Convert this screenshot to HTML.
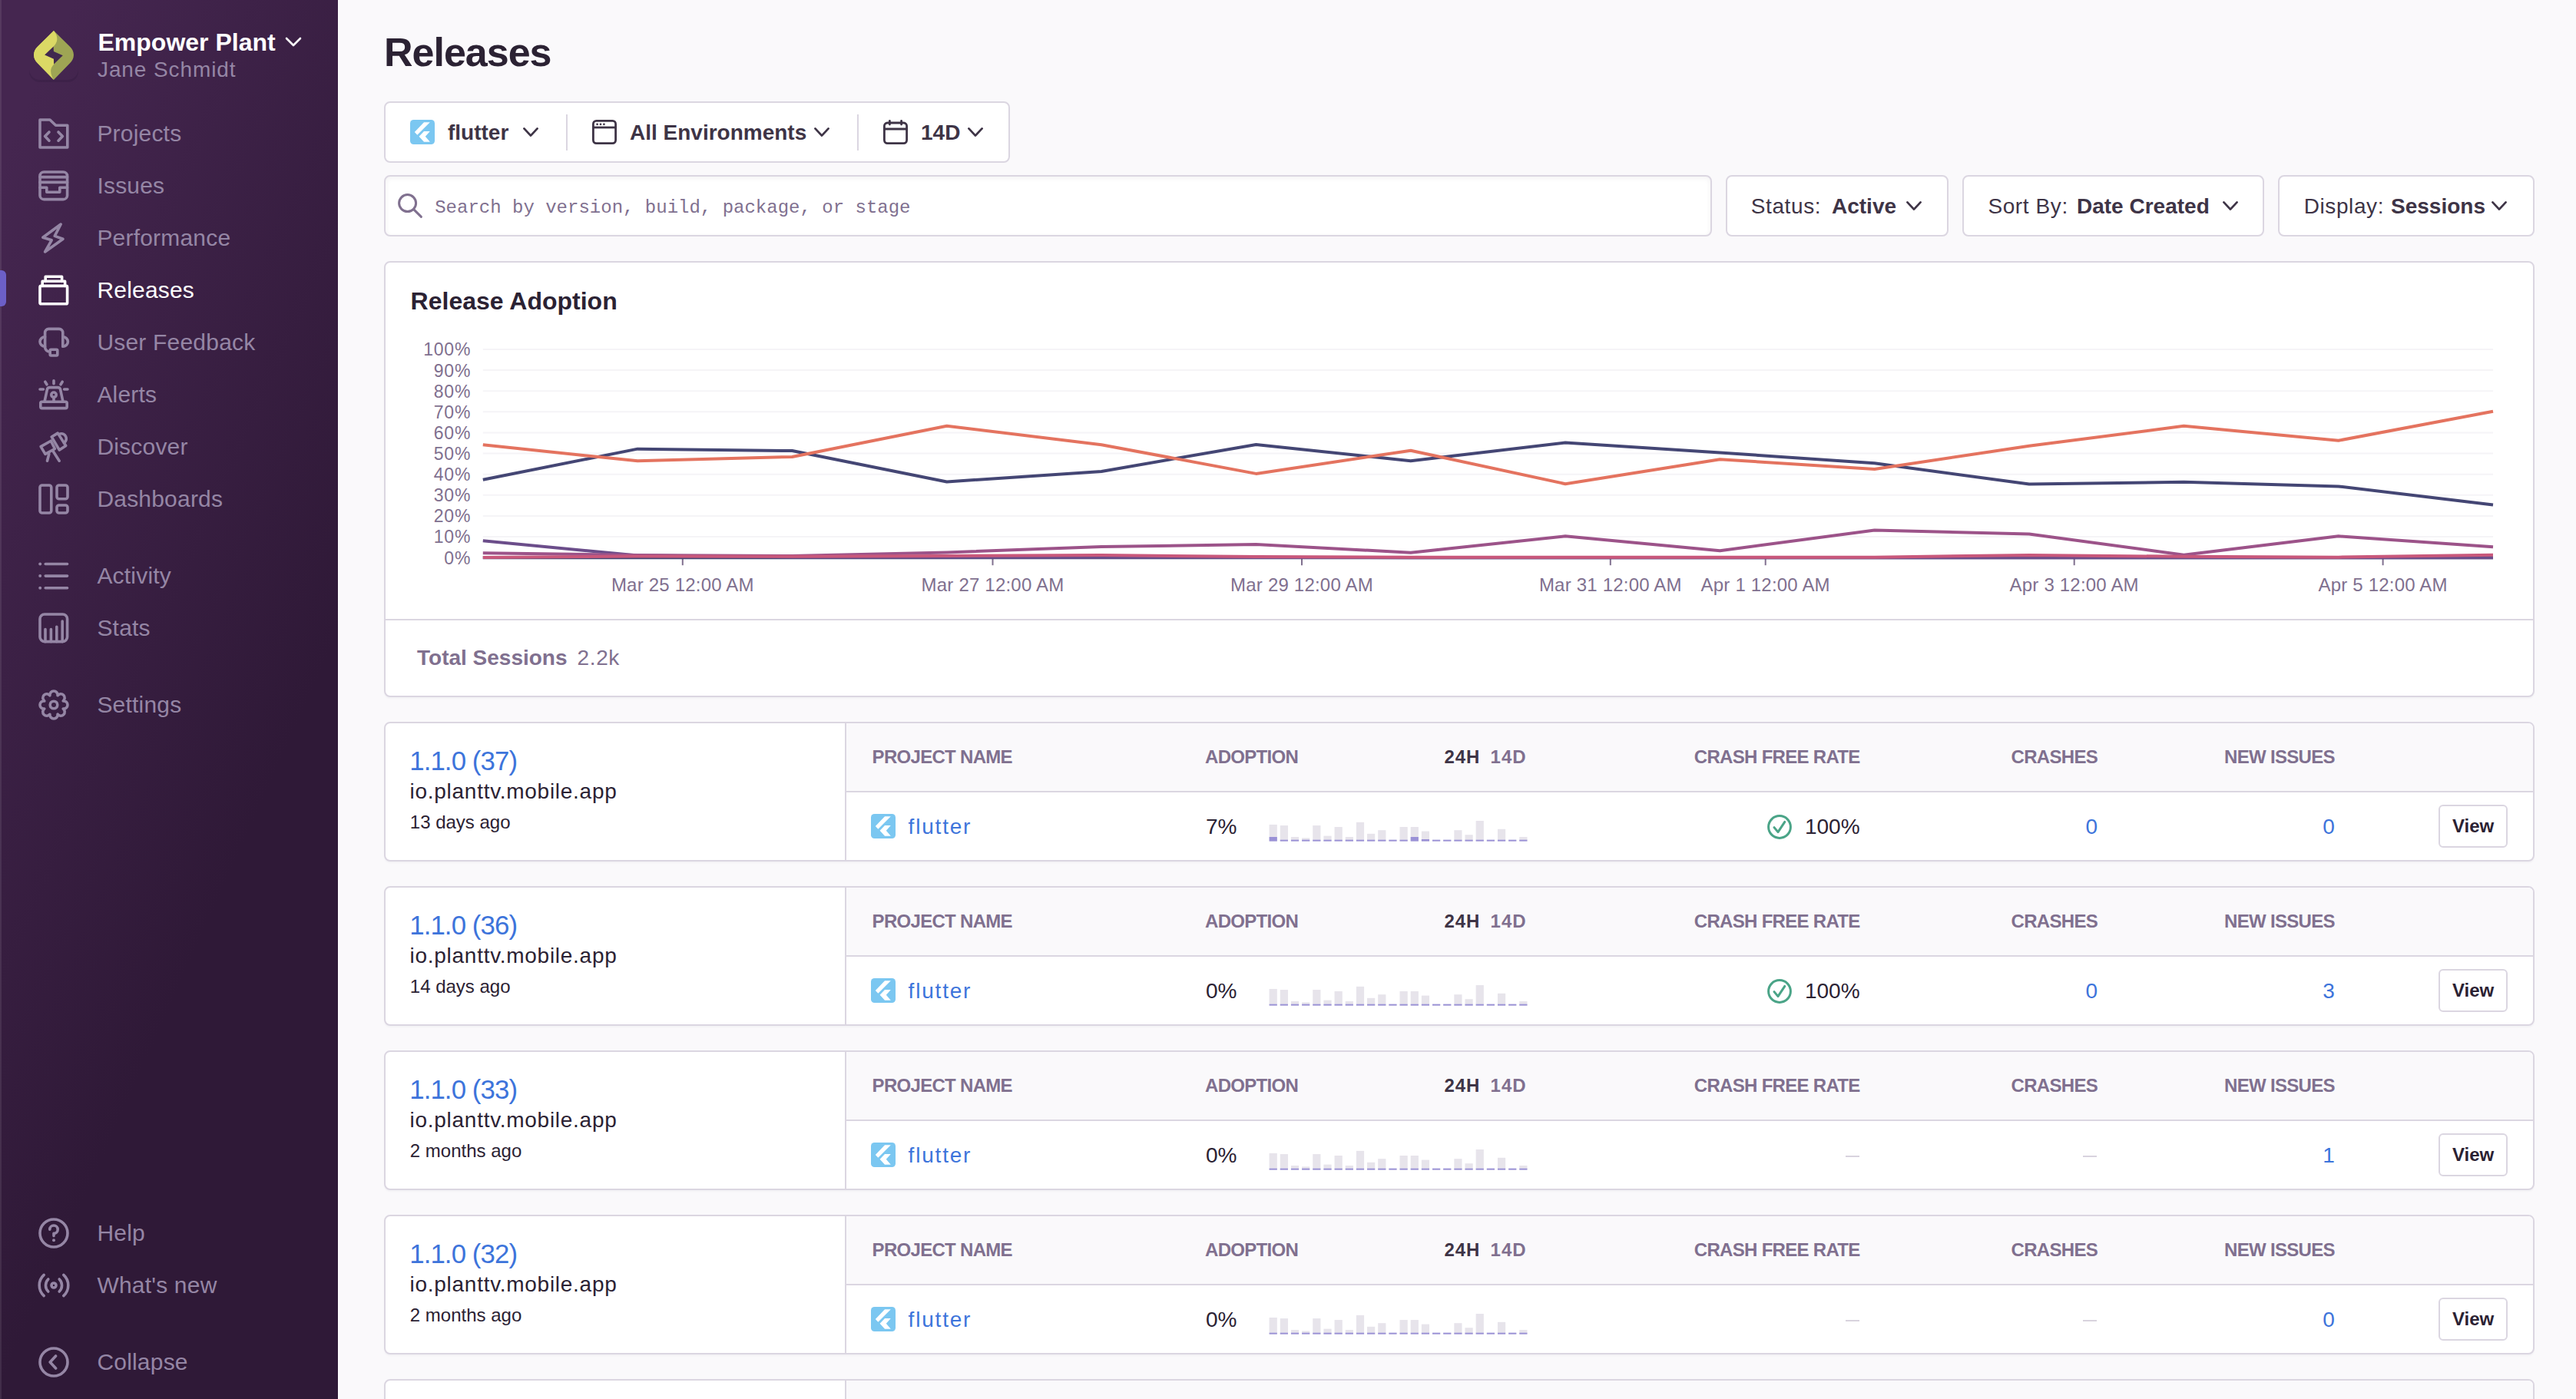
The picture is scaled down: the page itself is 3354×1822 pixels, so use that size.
<!DOCTYPE html><html><head><meta charset="utf-8"><style>
html,body{margin:0;padding:0;}
html{zoom:2;}
@media (max-width:2500px){html{zoom:1;}}
body{width:1677px;height:911px;overflow:hidden;position:relative;background:#FAF9FB;font-family:"Liberation Sans",sans-serif;}
.t{position:absolute;white-space:nowrap;line-height:1;}
svg{overflow:visible;}
</style></head><body>
<div style="position:absolute;left:0;top:0;width:220px;height:911px;background:linear-gradient(294.17deg,#2f1937 35.57%,#452650 92.42%,#452650 92.42%);"></div>
<div style="position:absolute;left:0px;top:0px;width:0.75px;height:911px;background:rgba(255,255,255,0.09);"></div>
<div style="position:absolute;left:220px;top:0px;width:0.5px;height:911px;background:#FFFFFF;"></div>
<div style="position:absolute;left:19px;top:20px;width:32px;height:32px;border-radius:7px;box-shadow:0 1.5px 0 rgba(20,8,30,0.12);"></div>
<svg style="position:absolute;left:19px;top:20px;" width="32" height="32" viewBox="0 0 32 32">
<path d="M15.98 0 L26.53 10.35 C27.96 11.8 28.98 13.5 28.98 15.76 C28.98 18.0 27.96 19.7 26.53 21.16 L15.98 32 L5.43 21.16 C4.0 19.7 2.99 18.0 2.99 15.76 C2.99 13.5 4.0 11.8 5.43 10.35 Z" fill="#9EA554"/>
<path d="M15.98 0 C17.2 1.2 18.3 3.4 18.17 5.72 C18.0 7.6 16.9 9.2 15.86 10.22 L16.11 21.8 C14.9 23.2 14.0 24.7 14.05 26.31 C14.1 28.5 15.0 30.6 15.98 32 L5.43 21.16 C4.0 19.7 2.99 18.0 2.99 15.76 C2.99 13.5 4.0 11.8 5.43 10.35 Z" fill="#DBD965"/>
<path d="M15.86 10.22 L15.98 13.44 L21.9 16.14 L16.11 21.8 L15.98 18.33 L10.07 15.76 Z" fill="#40284F"/>
</svg>
<div class="t" style="left:63.75px;top:19.26px;font-size:16px;font-weight:700;color:#FFFFFF;font-family:'Liberation Sans', sans-serif;">Empower Plant</div>
<svg style="position:absolute;left:185.5px;top:24px;" width="11" height="7" viewBox="0 0 11 7"><path d="M1 1 L5.5 5.5 L10 1" fill="none" stroke="#fff" stroke-width="1.3" stroke-linecap="round" stroke-linejoin="round"/></svg>
<div class="t" style="left:63.5px;top:38.35px;font-size:14px;font-weight:400;color:#9586A5;font-family:'Liberation Sans', sans-serif;letter-spacing:0.45px;">Jane Schmidt</div>
<svg style="position:absolute;left:25px;top:77px;" width="20" height="20" viewBox="0 0 20 20"><g fill="none" stroke="#9586A5" stroke-width="1.8" stroke-linecap="round" stroke-linejoin="round"><path d="M1 19 V1 H7.5 L11.3 4.6 H18.9 V19 Z"/><path d="M7 9 L4.3 11.8 L7 14.6"/><path d="M13 9 L15.7 11.8 L13 14.6"/></g></svg>
<div class="t" style="left:63.2px;top:79.50px;font-size:15px;font-weight:400;color:#9586A5;font-family:'Liberation Sans', sans-serif;letter-spacing:0.1px;">Projects</div>
<svg style="position:absolute;left:25px;top:111px;" width="20" height="20" viewBox="0 0 20 20"><g fill="none" stroke="#9586A5" stroke-width="1.8" stroke-linecap="round" stroke-linejoin="round"><rect x="1" y="1" width="17.8" height="17.8" rx="2.6"/><path d="M1 4.3 H18.8 M1 7.7 H18.8 M1 11.1 H5.4 V14.1 H13.9 V11.1 H18.8"/></g></svg>
<div class="t" style="left:63.2px;top:113.50px;font-size:15px;font-weight:400;color:#9586A5;font-family:'Liberation Sans', sans-serif;letter-spacing:0.1px;">Issues</div>
<svg style="position:absolute;left:25px;top:145px;" width="20" height="20" viewBox="0 0 20 20"><g fill="none" stroke="#9586A5" stroke-width="1.8" stroke-linecap="round" stroke-linejoin="round"><path d="M14.6 1 L2.9 9.6 L8.6 11.4 L4.3 19 L16 10.6 L10.6 8.7 Z"/></g></svg>
<div class="t" style="left:63.2px;top:147.50px;font-size:15px;font-weight:400;color:#9586A5;font-family:'Liberation Sans', sans-serif;letter-spacing:0.1px;">Performance</div>
<svg style="position:absolute;left:25px;top:179px;" width="20" height="20" viewBox="0 0 20 20"><g fill="none" stroke="#FFFFFF" stroke-width="1.8" stroke-linecap="round" stroke-linejoin="round"><path d="M4.6 4.2 V1.1 H15.3 V4.2"/><path d="M2.6 7.2 V4.1 H17.3 V7.2"/><rect x="1" y="7.2" width="17.8" height="11.7" rx="0.8"/></g></svg>
<div class="t" style="left:63.2px;top:181.50px;font-size:15px;font-weight:400;color:#FFFFFF;font-family:'Liberation Sans', sans-serif;letter-spacing:0.1px;">Releases</div>
<svg style="position:absolute;left:25px;top:213px;" width="20" height="20" viewBox="0 0 20 20"><g fill="none" stroke="#9586A5" stroke-width="1.8" stroke-linecap="round" stroke-linejoin="round"><path d="M15.9 12.6 V3.6 A2.4 2.4 0 0 0 13.5 1.2 H6.7 A2.4 2.4 0 0 0 4.3 3.6 V13 A3 3 0 0 0 7.3 16"/><rect x="7.6" y="14.6" width="4.8" height="3.9" rx="0.6"/><path d="M4.3 6.4 A3.3 3.1 0 0 0 4.3 12.6"/><path d="M15.9 6.4 A3.3 3.1 0 0 1 15.9 12.6"/></g></svg>
<div class="t" style="left:63.2px;top:215.50px;font-size:15px;font-weight:400;color:#9586A5;font-family:'Liberation Sans', sans-serif;letter-spacing:0.1px;">User Feedback</div>
<svg style="position:absolute;left:25px;top:247px;" width="20" height="20" viewBox="0 0 20 20"><g fill="none" stroke="#9586A5" stroke-width="1.8" stroke-linecap="round" stroke-linejoin="round"><path d="M1 6.5 H3.2 M16.8 6.5 H19 M10 0.9 V2.9 M4.4 1.6 L5.5 3.4 M15.6 1.6 L14.5 3.4"/><path d="M4 14.6 L5.7 6.6 Q6 5.3 7.4 5.3 H12.6 Q14 5.3 14.3 6.6 L16 14.6"/><circle cx="10" cy="10.1" r="1.6"/><path d="M10 11.7 V14.6"/><rect x="1.4" y="14.6" width="17.2" height="4.2" rx="0.9"/></g></svg>
<div class="t" style="left:63.2px;top:249.50px;font-size:15px;font-weight:400;color:#9586A5;font-family:'Liberation Sans', sans-serif;letter-spacing:0.1px;">Alerts</div>
<svg style="position:absolute;left:25px;top:281px;" width="20" height="20" viewBox="0 0 20 20"><g fill="none" stroke="#9586A5" stroke-width="1.8" stroke-linecap="round" stroke-linejoin="round"><path d="M1.57 9.81 L8.13 6.1 L10.72 11.24 L4.47 14.69 Z"/><path d="M8.58 3.47 L12.6 1.06 L17.87 9.28 L13.67 12.05 Z"/><path d="M14.2 1.5 C17.3 0.5 19.8 4.8 16.7 7.3"/><path d="M6.9 14.6 L5.75 19.1 M9.3 12.4 L13.6 19.1"/></g></svg>
<div class="t" style="left:63.2px;top:283.50px;font-size:15px;font-weight:400;color:#9586A5;font-family:'Liberation Sans', sans-serif;letter-spacing:0.1px;">Discover</div>
<svg style="position:absolute;left:25px;top:315px;" width="20" height="20" viewBox="0 0 20 20"><g fill="none" stroke="#9586A5" stroke-width="1.8" stroke-linecap="round" stroke-linejoin="round"><rect x="1" y="1" width="7.4" height="18" rx="1.4"/><rect x="12" y="1" width="7" height="8.9" rx="1.4"/><rect x="12" y="14" width="7" height="5" rx="1.4"/></g></svg>
<div class="t" style="left:63.2px;top:317.50px;font-size:15px;font-weight:400;color:#9586A5;font-family:'Liberation Sans', sans-serif;letter-spacing:0.1px;">Dashboards</div>
<svg style="position:absolute;left:25px;top:365px;" width="20" height="20" viewBox="0 0 20 20"><g fill="none" stroke="#9586A5" stroke-width="1.8" stroke-linecap="round" stroke-linejoin="round"><path d="M4.6 2.25 H18.8 M4.6 10.05 H18.8 M4.6 17.85 H18.8"/><g fill="#9586A5" stroke="none"><circle cx="1.1" cy="2.25" r="1.0"/><circle cx="1.1" cy="10.05" r="1.0"/><circle cx="1.1" cy="17.85" r="1.0"/></g></g></svg>
<div class="t" style="left:63.2px;top:367.50px;font-size:15px;font-weight:400;color:#9586A5;font-family:'Liberation Sans', sans-serif;letter-spacing:0.1px;">Activity</div>
<svg style="position:absolute;left:25px;top:399px;" width="20" height="20" viewBox="0 0 20 20"><g fill="none" stroke="#9586A5" stroke-width="1.8" stroke-linecap="round" stroke-linejoin="round"><rect x="1" y="1" width="17.8" height="17.8" rx="3"/><path d="M4.5 18.8 V10.8 M8.2 18.8 V10.8 M11.9 18.8 V9.1 M15.6 18.8 V5.5"/></g></svg>
<div class="t" style="left:63.2px;top:401.50px;font-size:15px;font-weight:400;color:#9586A5;font-family:'Liberation Sans', sans-serif;letter-spacing:0.1px;">Stats</div>
<svg style="position:absolute;left:25px;top:449px;" width="20" height="20" viewBox="0 0 20 20"><g fill="none" stroke="#9586A5" stroke-width="1.8" stroke-linecap="round" stroke-linejoin="round"><path d="M7.474 3.902 A2.551 2.551 0 1 1 12.526 3.902 A2.551 2.551 0 1 1 16.098 7.474 A2.551 2.551 0 1 1 16.098 12.526 A2.551 2.551 0 1 1 12.526 16.098 A2.551 2.551 0 1 1 7.474 16.098 A2.551 2.551 0 1 1 3.902 12.526 A2.551 2.551 0 1 1 3.902 7.474 A2.551 2.551 0 1 1 7.474 3.902 Z"/><circle cx="10" cy="10" r="2.4"/></g></svg>
<div class="t" style="left:63.2px;top:451.50px;font-size:15px;font-weight:400;color:#9586A5;font-family:'Liberation Sans', sans-serif;letter-spacing:0.1px;">Settings</div>
<div style="position:absolute;left:-2px;top:175.8px;width:5.75px;height:23.6px;background:#6C5FC7;border-radius:0 3px 3px 0;"></div>
<svg style="position:absolute;left:25px;top:793px;" width="20" height="20" viewBox="0 0 20 20"><g fill="none" stroke="#9586A5" stroke-width="1.8" stroke-linecap="round" stroke-linejoin="round"><circle cx="10" cy="10" r="9"/><path d="M7.4 7.6 A2.6 2.6 0 1 1 10 10.2 V11.8"/><circle cx="10" cy="14.6" r="1" fill="#9586A5" stroke="none"/></g></svg>
<div class="t" style="left:63.2px;top:795.30px;font-size:15px;font-weight:400;color:#9586A5;font-family:'Liberation Sans', sans-serif;letter-spacing:0.1px;">Help</div>
<svg style="position:absolute;left:25px;top:827px;" width="20" height="20" viewBox="0 0 20 20"><g fill="none" stroke="#9586A5" stroke-width="1.8" stroke-linecap="round" stroke-linejoin="round"><circle cx="10" cy="10" r="1.5"/><path d="M6.4 6 A5.6 5.6 0 0 0 6.4 14 M13.6 6 A5.6 5.6 0 0 1 13.6 14 M3.6 3.2 A9.2 9.2 0 0 0 3.6 16.8 M16.4 3.2 A9.2 9.2 0 0 1 16.4 16.8"/></g></svg>
<div class="t" style="left:63.2px;top:829.30px;font-size:15px;font-weight:400;color:#9586A5;font-family:'Liberation Sans', sans-serif;letter-spacing:0.1px;">What's new</div>
<svg style="position:absolute;left:25px;top:877px;" width="20" height="20" viewBox="0 0 20 20"><g fill="none" stroke="#9586A5" stroke-width="1.8" stroke-linecap="round" stroke-linejoin="round"><circle cx="10" cy="10" r="9"/><path d="M11.3 6 L7.6 10 L11.3 14"/></g></svg>
<div class="t" style="left:63.2px;top:879.30px;font-size:15px;font-weight:400;color:#9586A5;font-family:'Liberation Sans', sans-serif;letter-spacing:0.1px;">Collapse</div>
<div class="t" style="left:250px;top:20.84px;font-size:26px;font-weight:700;color:#2B2233;font-family:'Liberation Sans', sans-serif;letter-spacing:-0.5px;">Releases</div>
<div style="position:absolute;left:250px;top:66px;width:407.5px;height:40px;box-sizing:border-box;border:1px solid #DBD6E1;border-radius:4px;background:#fff;"></div>
<div style="position:absolute;left:368.4px;top:74.3px;width:1px;height:23.5px;background:#DBD6E1;"></div>
<div style="position:absolute;left:558.0px;top:74.3px;width:1px;height:23.5px;background:#DBD6E1;"></div>
<svg style="position:absolute;left:267px;top:78px;" width="16" height="16" viewBox="0 0 16 16"><rect x="0" y="0" width="16" height="16" rx="2.3" fill="#7BC7F1"/><path d="M9.0 1.6 H12.9 L4.65 9.85 L2.9 8.0 Z" fill="#fff"/><path d="M9.0 7.5 H12.9 L9.9 10.9 L12.9 14.35 H9.0 L5.8 10.9 Z" fill="#fff"/></svg>
<div class="t" style="left:291.5px;top:79.25px;font-size:14px;font-weight:700;color:#3E3446;font-family:'Liberation Sans', sans-serif;">flutter</div>
<svg style="position:absolute;left:340.5px;top:83px;" width="10" height="6" viewBox="0 0 10 6"><path d="M0.7 0.7 L5.0 5.3 L9.3 0.7" fill="none" stroke="#3E3446" stroke-width="1.4" stroke-linecap="round" stroke-linejoin="round"/></svg>
<svg style="position:absolute;left:385.5px;top:78px;" width="16" height="16" viewBox="0 0 16 16"><g fill="none" stroke="#3E3446" stroke-width="1.4"><rect x="0.7" y="0.7" width="14.6" height="14.6" rx="2"/><path d="M0.7 5 H15.3"/></g><circle cx="3.3" cy="2.9" r="0.7" fill="#3E3446"/><circle cx="5.5" cy="2.9" r="0.7" fill="#3E3446"/><circle cx="7.7" cy="2.9" r="0.7" fill="#3E3446"/></svg>
<div class="t" style="left:410px;top:79.25px;font-size:14px;font-weight:700;color:#3E3446;font-family:'Liberation Sans', sans-serif;">All Environments</div>
<svg style="position:absolute;left:530px;top:83px;" width="10" height="6" viewBox="0 0 10 6"><path d="M0.7 0.7 L5.0 5.3 L9.3 0.7" fill="none" stroke="#3E3446" stroke-width="1.4" stroke-linecap="round" stroke-linejoin="round"/></svg>
<svg style="position:absolute;left:575px;top:78px;" width="16" height="16" viewBox="0 0 16 16"><g fill="none" stroke="#3E3446" stroke-width="1.4" stroke-linecap="round"><rect x="0.7" y="2" width="14.6" height="13.3" rx="2"/><path d="M0.7 6 H15.3 M4.2 0.7 V3 M11.8 0.7 V3"/></g></svg>
<div class="t" style="left:599.5px;top:79.25px;font-size:14px;font-weight:700;color:#3E3446;font-family:'Liberation Sans', sans-serif;">14D</div>
<svg style="position:absolute;left:630px;top:83px;" width="10" height="6" viewBox="0 0 10 6"><path d="M0.7 0.7 L5.0 5.3 L9.3 0.7" fill="none" stroke="#3E3446" stroke-width="1.4" stroke-linecap="round" stroke-linejoin="round"/></svg>
<div style="position:absolute;left:250px;top:114px;width:864.5px;height:40px;box-sizing:border-box;border:1px solid #DBD6E1;border-radius:4px;background:#fff;box-shadow:inset 0 1px 3px rgba(43,34,51,0.06);"></div>
<svg style="position:absolute;left:259px;top:126px;" width="16" height="16" viewBox="0 0 16 16"><g fill="none" stroke="#80708F" stroke-width="1.5" stroke-linecap="round"><circle cx="6.3" cy="6.3" r="5.5"/><path d="M10.3 10.3 L15.2 15.2"/></g></svg>
<div class="t" style="left:283.1px;top:129.60px;font-size:12px;font-weight:400;color:#80708F;font-family:'Liberation Mono', monospace;">Search by version, build, package, or stage</div>
<div style="position:absolute;left:1123.3px;top:114px;width:145.2px;height:40px;box-sizing:border-box;border:1px solid #DBD6E1;border-radius:4px;background:#fff;"></div>
<div class="t" style="left:1139.9px;top:127.25px;font-size:14px;font-weight:400;color:#3E3446;font-family:'Liberation Sans', sans-serif;letter-spacing:0.3px;">Status:</div>
<div class="t" style="left:1192.5px;top:127.25px;font-size:14px;font-weight:700;color:#3E3446;font-family:'Liberation Sans', sans-serif;">Active</div>
<svg style="position:absolute;left:1241px;top:131px;" width="10" height="6" viewBox="0 0 10 6"><path d="M0.7 0.7 L5.0 5.3 L9.3 0.7" fill="none" stroke="#3E3446" stroke-width="1.4" stroke-linecap="round" stroke-linejoin="round"/></svg>
<div style="position:absolute;left:1277.4px;top:114px;width:196.6px;height:40px;box-sizing:border-box;border:1px solid #DBD6E1;border-radius:4px;background:#fff;"></div>
<div class="t" style="left:1294.2px;top:127.25px;font-size:14px;font-weight:400;color:#3E3446;font-family:'Liberation Sans', sans-serif;letter-spacing:0.3px;">Sort By:</div>
<div class="t" style="left:1352px;top:127.25px;font-size:14px;font-weight:700;color:#3E3446;font-family:'Liberation Sans', sans-serif;">Date Created</div>
<svg style="position:absolute;left:1446.8px;top:131px;" width="10" height="6" viewBox="0 0 10 6"><path d="M0.7 0.7 L5.0 5.3 L9.3 0.7" fill="none" stroke="#3E3446" stroke-width="1.4" stroke-linecap="round" stroke-linejoin="round"/></svg>
<div style="position:absolute;left:1483px;top:114px;width:167px;height:40px;box-sizing:border-box;border:1px solid #DBD6E1;border-radius:4px;background:#fff;"></div>
<div class="t" style="left:1499.85px;top:127.25px;font-size:14px;font-weight:400;color:#3E3446;font-family:'Liberation Sans', sans-serif;letter-spacing:0.3px;">Display:</div>
<div class="t" style="left:1556.5px;top:127.25px;font-size:14px;font-weight:700;color:#3E3446;font-family:'Liberation Sans', sans-serif;">Sessions</div>
<svg style="position:absolute;left:1622px;top:131px;" width="10" height="6" viewBox="0 0 10 6"><path d="M0.7 0.7 L5.0 5.3 L9.3 0.7" fill="none" stroke="#3E3446" stroke-width="1.4" stroke-linecap="round" stroke-linejoin="round"/></svg>
<div style="position:absolute;left:250px;top:170px;width:1400px;height:284px;box-sizing:border-box;border:1px solid #DBD6E1;border-radius:4px;background:#fff;box-shadow:0 1px 1px rgba(43,34,51,0.03);"></div>
<div style="position:absolute;left:251px;top:403px;width:1398px;height:1px;background:#DBD6E1;"></div>
<div class="t" style="left:267.3px;top:188.16px;font-size:16px;font-weight:700;color:#2B2233;font-family:'Liberation Sans', sans-serif;">Release Adoption</div>
<div class="t" style="left:271.5px;top:421.45px;font-size:14px;font-weight:700;color:#80708F;font-family:'Liberation Sans', sans-serif;">Total Sessions</div>
<div class="t" style="left:375.8px;top:421.45px;font-size:14px;font-weight:400;color:#80708F;font-family:'Liberation Sans', sans-serif;letter-spacing:0.3px;">2.2k</div>
<svg style="position:absolute;left:0;top:0" width="1677" height="911" viewBox="0 0 1677 911"><text x="306.6" y="367.30" text-anchor="end" font-family="Liberation Sans" font-size="11.5" letter-spacing="0.4" fill="#80708F">0%</text><path d="M314.4 349.54 H1623.0" stroke="#F5F4F7" stroke-width="1"/><text x="306.6" y="353.74" text-anchor="end" font-family="Liberation Sans" font-size="11.5" letter-spacing="0.4" fill="#80708F">10%</text><path d="M314.4 335.98 H1623.0" stroke="#F5F4F7" stroke-width="1"/><text x="306.6" y="340.18" text-anchor="end" font-family="Liberation Sans" font-size="11.5" letter-spacing="0.4" fill="#80708F">20%</text><path d="M314.4 322.42 H1623.0" stroke="#F5F4F7" stroke-width="1"/><text x="306.6" y="326.62" text-anchor="end" font-family="Liberation Sans" font-size="11.5" letter-spacing="0.4" fill="#80708F">30%</text><path d="M314.4 308.86 H1623.0" stroke="#F5F4F7" stroke-width="1"/><text x="306.6" y="313.06" text-anchor="end" font-family="Liberation Sans" font-size="11.5" letter-spacing="0.4" fill="#80708F">40%</text><path d="M314.4 295.30 H1623.0" stroke="#F5F4F7" stroke-width="1"/><text x="306.6" y="299.50" text-anchor="end" font-family="Liberation Sans" font-size="11.5" letter-spacing="0.4" fill="#80708F">50%</text><path d="M314.4 281.74 H1623.0" stroke="#F5F4F7" stroke-width="1"/><text x="306.6" y="285.94" text-anchor="end" font-family="Liberation Sans" font-size="11.5" letter-spacing="0.4" fill="#80708F">60%</text><path d="M314.4 268.18 H1623.0" stroke="#F5F4F7" stroke-width="1"/><text x="306.6" y="272.38" text-anchor="end" font-family="Liberation Sans" font-size="11.5" letter-spacing="0.4" fill="#80708F">70%</text><path d="M314.4 254.62 H1623.0" stroke="#F5F4F7" stroke-width="1"/><text x="306.6" y="258.82" text-anchor="end" font-family="Liberation Sans" font-size="11.5" letter-spacing="0.4" fill="#80708F">80%</text><path d="M314.4 241.06 H1623.0" stroke="#F5F4F7" stroke-width="1"/><text x="306.6" y="245.26" text-anchor="end" font-family="Liberation Sans" font-size="11.5" letter-spacing="0.4" fill="#80708F">90%</text><path d="M314.4 227.50 H1623.0" stroke="#F5F4F7" stroke-width="1"/><text x="306.6" y="231.70" text-anchor="end" font-family="Liberation Sans" font-size="11.5" letter-spacing="0.4" fill="#80708F">100%</text><path d="M444.4 363.1 V368.1" stroke="#80708F" stroke-width="1"/><text x="444.4" y="384.9" text-anchor="middle" font-family="Liberation Sans" font-size="12" letter-spacing="0.1" fill="#80708F">Mar 25 12:00 AM</text><path d="M646.25 363.1 V368.1" stroke="#80708F" stroke-width="1"/><text x="646.25" y="384.9" text-anchor="middle" font-family="Liberation Sans" font-size="12" letter-spacing="0.1" fill="#80708F">Mar 27 12:00 AM</text><path d="M847.5 363.1 V368.1" stroke="#80708F" stroke-width="1"/><text x="847.5" y="384.9" text-anchor="middle" font-family="Liberation Sans" font-size="12" letter-spacing="0.1" fill="#80708F">Mar 29 12:00 AM</text><path d="M1048.4 363.1 V368.1" stroke="#80708F" stroke-width="1"/><text x="1048.4" y="384.9" text-anchor="middle" font-family="Liberation Sans" font-size="12" letter-spacing="0.1" fill="#80708F">Mar 31 12:00 AM</text><path d="M1149.35 363.1 V368.1" stroke="#80708F" stroke-width="1"/><text x="1149.35" y="384.9" text-anchor="middle" font-family="Liberation Sans" font-size="12" letter-spacing="0.1" fill="#80708F">Apr 1 12:00 AM</text><path d="M1350.35 363.1 V368.1" stroke="#80708F" stroke-width="1"/><text x="1350.35" y="384.9" text-anchor="middle" font-family="Liberation Sans" font-size="12" letter-spacing="0.1" fill="#80708F">Apr 3 12:00 AM</text><path d="M1551.3 363.1 V368.1" stroke="#80708F" stroke-width="1"/><text x="1551.3" y="384.9" text-anchor="middle" font-family="Liberation Sans" font-size="12" letter-spacing="0.1" fill="#80708F">Apr 5 12:00 AM</text><path d="M314.40 363.10 L415.06 363.10 L515.72 363.10 L616.38 363.10 L717.05 363.10 L817.71 363.10 L918.37 363.10 L1019.03 363.10 L1119.69 363.10 L1220.35 363.10 L1321.02 363.10 L1421.68 363.10 L1522.34 363.10 L1623.00 363.10" fill="none" stroke="#444674" stroke-width="2" stroke-linejoin="round"/><path d="M314.40 352.12 L415.06 361.74 L515.72 362.69 L616.38 362.83 L717.05 362.83 L817.71 362.96 L918.37 363.10 L1019.03 363.10 L1119.69 363.10 L1220.35 363.10 L1321.02 363.10 L1421.68 363.10 L1522.34 363.10 L1623.00 363.10" fill="none" stroke="#6B4D8A" stroke-width="2" stroke-linejoin="round"/><path d="M314.40 360.12 L415.06 361.47 L515.72 362.02 L616.38 359.71 L717.05 356.05 L817.71 354.56 L918.37 359.85 L1019.03 349.13 L1119.69 358.63 L1220.35 345.20 L1321.02 347.78 L1421.68 361.34 L1522.34 349.13 L1623.00 356.18" fill="none" stroke="#9C5389" stroke-width="2" stroke-linejoin="round"/><path d="M314.40 362.96 L415.06 362.29 L515.72 362.42 L616.38 362.02 L717.05 361.47 L817.71 362.56 L918.37 362.83 L1019.03 362.83 L1119.69 362.83 L1220.35 362.83 L1321.02 361.47 L1421.68 362.42 L1522.34 362.83 L1623.00 361.34" fill="none" stroke="#C9587B" stroke-width="2" stroke-linejoin="round"/><path d="M314.40 312.39 L415.06 292.32 L515.72 293.54 L616.38 313.74 L717.05 306.96 L817.71 289.47 L918.37 300.18 L1019.03 288.25 L1119.69 294.76 L1220.35 301.67 L1321.02 315.23 L1421.68 313.88 L1522.34 316.72 L1623.00 328.79" fill="none" stroke="#444674" stroke-width="2" stroke-linejoin="round"/><path d="M314.40 289.60 L415.06 300.18 L515.72 297.47 L616.38 277.40 L717.05 289.60 L817.71 308.45 L918.37 293.40 L1019.03 315.10 L1119.69 299.10 L1220.35 305.47 L1321.02 290.42 L1421.68 277.40 L1522.34 286.89 L1623.00 267.91" fill="none" stroke="#E4735F" stroke-width="2" stroke-linejoin="round"/></svg>
<div style="position:absolute;left:250px;top:470px;width:1400px;height:91px;box-sizing:border-box;border:1px solid #DBD6E1;border-radius:4px;background:#fff;box-shadow:0 1px 1px rgba(43,34,51,0.03);overflow:hidden;"></div>
<div style="position:absolute;left:551px;top:471px;width:1098px;height:44px;background:#FAF9FB;border-top-right-radius:3px;"></div>
<div style="position:absolute;left:550px;top:471px;width:1px;height:89px;background:#DBD6E1;"></div>
<div style="position:absolute;left:551px;top:515px;width:1098px;height:1px;background:#DBD6E1;"></div>
<div class="t" style="left:266.6px;top:486.77px;font-size:17.4px;font-weight:400;color:#3D74DB;font-family:'Liberation Sans', sans-serif;letter-spacing:-0.45px;">1.1.0 (37)</div>
<div class="t" style="left:266.8px;top:508.55px;font-size:14px;font-weight:400;color:#2B2233;font-family:'Liberation Sans', sans-serif;letter-spacing:0.36px;">io.planttv.mobile.app</div>
<div class="t" style="left:266.9px;top:529.74px;font-size:12px;font-weight:400;color:#2B2233;font-family:'Liberation Sans', sans-serif;">13 days ago</div>
<div class="t" style="left:567.8px;top:486.84px;font-size:12px;font-weight:700;color:#80708F;font-family:'Liberation Sans', sans-serif;letter-spacing:-0.35px;">PROJECT NAME</div>
<div class="t" style="left:784.5px;top:486.84px;font-size:12px;font-weight:700;color:#80708F;font-family:'Liberation Sans', sans-serif;letter-spacing:-0.35px;">ADOPTION</div>
<div class="t" style="left:940.2px;top:486.84px;font-size:12px;font-weight:700;color:#3E3446;font-family:'Liberation Sans', sans-serif;letter-spacing:0.5px;">24H</div>
<div class="t" style="left:970.3px;top:486.84px;font-size:12px;font-weight:700;color:#80708F;font-family:'Liberation Sans', sans-serif;letter-spacing:0.5px;">14D</div>
<div class="t" style="left:1210.8px;transform:translateX(-100%);top:486.84px;font-size:12px;font-weight:700;color:#80708F;font-family:'Liberation Sans', sans-serif;letter-spacing:-0.35px;">CRASH FREE RATE</div>
<div class="t" style="left:1365.5px;transform:translateX(-100%);top:486.84px;font-size:12px;font-weight:700;color:#80708F;font-family:'Liberation Sans', sans-serif;letter-spacing:-0.35px;">CRASHES</div>
<div class="t" style="left:1519.9px;transform:translateX(-100%);top:486.84px;font-size:12px;font-weight:700;color:#80708F;font-family:'Liberation Sans', sans-serif;letter-spacing:-0.35px;">NEW ISSUES</div>
<svg style="position:absolute;left:567px;top:530px;" width="16" height="16" viewBox="0 0 16 16"><rect x="0" y="0" width="16" height="16" rx="2.3" fill="#7BC7F1"/><path d="M9.0 1.6 H12.9 L4.65 9.85 L2.9 8.0 Z" fill="#fff"/><path d="M9.0 7.5 H12.9 L9.9 10.9 L12.9 14.35 H9.0 L5.8 10.9 Z" fill="#fff"/></svg>
<div class="t" style="left:591.3px;top:531.35px;font-size:14px;font-weight:400;color:#3D74DB;font-family:'Liberation Sans', sans-serif;letter-spacing:0.9px;">flutter</div>
<div class="t" style="left:785px;top:531.35px;font-size:14px;font-weight:400;color:#2B2233;font-family:'Liberation Sans', sans-serif;">7%</div>
<svg style="position:absolute;left:0px;top:0px;" width="1677" height="600" viewBox="0 0 1677 600"><rect x="826.30" y="536.97" width="5.1" height="10.83" fill="#E7E4EB"/><rect x="826.30" y="545.00" width="5.1" height="2.80" fill="#9A91D6"/><rect x="833.38" y="537.53" width="5.1" height="10.27" fill="#E7E4EB"/><rect x="833.38" y="546.85" width="5.1" height="0.95" fill="#9A91D6"/><rect x="840.46" y="545.00" width="5.1" height="2.80" fill="#E7E4EB"/><rect x="840.46" y="546.85" width="5.1" height="0.95" fill="#9A91D6"/><rect x="847.54" y="545.70" width="5.1" height="2.10" fill="#E7E4EB"/><rect x="847.54" y="546.85" width="5.1" height="0.95" fill="#9A91D6"/><rect x="854.62" y="537.53" width="5.1" height="10.27" fill="#E7E4EB"/><rect x="854.62" y="546.85" width="5.1" height="0.95" fill="#9A91D6"/><rect x="861.70" y="544.31" width="5.1" height="3.49" fill="#E7E4EB"/><rect x="861.70" y="546.85" width="5.1" height="0.95" fill="#9A91D6"/><rect x="868.78" y="538.51" width="5.1" height="9.29" fill="#E7E4EB"/><rect x="868.78" y="546.85" width="5.1" height="0.95" fill="#9A91D6"/><rect x="875.86" y="545.00" width="5.1" height="2.80" fill="#E7E4EB"/><rect x="875.86" y="546.85" width="5.1" height="0.95" fill="#9A91D6"/><rect x="882.94" y="535.43" width="5.1" height="12.37" fill="#E7E4EB"/><rect x="882.94" y="546.85" width="5.1" height="0.95" fill="#9A91D6"/><rect x="890.02" y="542.91" width="5.1" height="4.89" fill="#E7E4EB"/><rect x="890.02" y="546.85" width="5.1" height="0.95" fill="#9A91D6"/><rect x="897.10" y="540.60" width="5.1" height="7.20" fill="#E7E4EB"/><rect x="897.10" y="546.85" width="5.1" height="0.95" fill="#9A91D6"/><rect x="904.18" y="546.89" width="5.1" height="0.91" fill="#E7E4EB"/><rect x="904.18" y="546.85" width="5.1" height="0.95" fill="#9A91D6"/><rect x="911.26" y="538.51" width="5.1" height="9.29" fill="#E7E4EB"/><rect x="911.26" y="546.85" width="5.1" height="0.95" fill="#9A91D6"/><rect x="918.34" y="538.51" width="5.1" height="9.29" fill="#E7E4EB"/><rect x="918.34" y="545.00" width="5.1" height="2.80" fill="#9A91D6"/><rect x="925.42" y="541.30" width="5.1" height="6.50" fill="#E7E4EB"/><rect x="925.42" y="546.50" width="5.1" height="1.30" fill="#9A91D6"/><rect x="932.50" y="546.89" width="5.1" height="0.91" fill="#E7E4EB"/><rect x="932.50" y="546.85" width="5.1" height="0.95" fill="#9A91D6"/><rect x="939.58" y="546.89" width="5.1" height="0.91" fill="#E7E4EB"/><rect x="939.58" y="546.85" width="5.1" height="0.95" fill="#9A91D6"/><rect x="946.66" y="540.60" width="5.1" height="7.20" fill="#E7E4EB"/><rect x="946.66" y="546.85" width="5.1" height="0.95" fill="#9A91D6"/><rect x="953.74" y="543.61" width="5.1" height="4.19" fill="#E7E4EB"/><rect x="953.74" y="546.85" width="5.1" height="0.95" fill="#9A91D6"/><rect x="960.82" y="534.52" width="5.1" height="13.28" fill="#E7E4EB"/><rect x="960.82" y="546.85" width="5.1" height="0.95" fill="#9A91D6"/><rect x="967.90" y="546.89" width="5.1" height="0.91" fill="#E7E4EB"/><rect x="967.90" y="546.85" width="5.1" height="0.95" fill="#9A91D6"/><rect x="974.98" y="539.90" width="5.1" height="7.90" fill="#E7E4EB"/><rect x="974.98" y="546.85" width="5.1" height="0.95" fill="#9A91D6"/><rect x="982.06" y="546.89" width="5.1" height="0.91" fill="#E7E4EB"/><rect x="982.06" y="546.85" width="5.1" height="0.95" fill="#9A91D6"/><rect x="989.14" y="545.00" width="5.1" height="2.80" fill="#E7E4EB"/><rect x="989.14" y="546.85" width="5.1" height="0.95" fill="#9A91D6"/></svg>
<svg style="position:absolute;left:1150.6px;top:530.4px;" width="16" height="16" viewBox="0 0 16 16"><circle cx="8" cy="8" r="7.2" fill="none" stroke="#4AA487" stroke-width="1.5"/><path d="M4.5 8.3 L7.0 11.3 L11.4 4.7" fill="none" stroke="#4AA487" stroke-width="1.5" stroke-linecap="round" stroke-linejoin="round"/></svg>
<div class="t" style="left:1210.8px;transform:translateX(-100%);top:531.35px;font-size:14px;font-weight:400;color:#2B2233;font-family:'Liberation Sans', sans-serif;">100%</div>
<div class="t" style="left:1365.5px;transform:translateX(-100%);top:531.35px;font-size:14px;font-weight:400;color:#3D74DB;font-family:'Liberation Sans', sans-serif;">0</div>
<div class="t" style="left:1519.9px;transform:translateX(-100%);top:531.35px;font-size:14px;font-weight:400;color:#3D74DB;font-family:'Liberation Sans', sans-serif;">0</div>
<div style="position:absolute;left:1587.7px;top:524.2px;width:45px;height:27.6px;box-sizing:border-box;border:1px solid #DBD6E1;border-radius:3px;background:#fff;"></div>
<div class="t" style="left:1596.5px;top:531.84px;font-size:12px;font-weight:700;color:#2B2233;font-family:'Liberation Sans', sans-serif;">View</div>
<div style="position:absolute;left:250px;top:577px;width:1400px;height:91px;box-sizing:border-box;border:1px solid #DBD6E1;border-radius:4px;background:#fff;box-shadow:0 1px 1px rgba(43,34,51,0.03);overflow:hidden;"></div>
<div style="position:absolute;left:551px;top:578px;width:1098px;height:44px;background:#FAF9FB;border-top-right-radius:3px;"></div>
<div style="position:absolute;left:550px;top:578px;width:1px;height:89px;background:#DBD6E1;"></div>
<div style="position:absolute;left:551px;top:622px;width:1098px;height:1px;background:#DBD6E1;"></div>
<div class="t" style="left:266.6px;top:593.77px;font-size:17.4px;font-weight:400;color:#3D74DB;font-family:'Liberation Sans', sans-serif;letter-spacing:-0.45px;">1.1.0 (36)</div>
<div class="t" style="left:266.8px;top:615.55px;font-size:14px;font-weight:400;color:#2B2233;font-family:'Liberation Sans', sans-serif;letter-spacing:0.36px;">io.planttv.mobile.app</div>
<div class="t" style="left:266.9px;top:636.74px;font-size:12px;font-weight:400;color:#2B2233;font-family:'Liberation Sans', sans-serif;">14 days ago</div>
<div class="t" style="left:567.8px;top:593.84px;font-size:12px;font-weight:700;color:#80708F;font-family:'Liberation Sans', sans-serif;letter-spacing:-0.35px;">PROJECT NAME</div>
<div class="t" style="left:784.5px;top:593.84px;font-size:12px;font-weight:700;color:#80708F;font-family:'Liberation Sans', sans-serif;letter-spacing:-0.35px;">ADOPTION</div>
<div class="t" style="left:940.2px;top:593.84px;font-size:12px;font-weight:700;color:#3E3446;font-family:'Liberation Sans', sans-serif;letter-spacing:0.5px;">24H</div>
<div class="t" style="left:970.3px;top:593.84px;font-size:12px;font-weight:700;color:#80708F;font-family:'Liberation Sans', sans-serif;letter-spacing:0.5px;">14D</div>
<div class="t" style="left:1210.8px;transform:translateX(-100%);top:593.84px;font-size:12px;font-weight:700;color:#80708F;font-family:'Liberation Sans', sans-serif;letter-spacing:-0.35px;">CRASH FREE RATE</div>
<div class="t" style="left:1365.5px;transform:translateX(-100%);top:593.84px;font-size:12px;font-weight:700;color:#80708F;font-family:'Liberation Sans', sans-serif;letter-spacing:-0.35px;">CRASHES</div>
<div class="t" style="left:1519.9px;transform:translateX(-100%);top:593.84px;font-size:12px;font-weight:700;color:#80708F;font-family:'Liberation Sans', sans-serif;letter-spacing:-0.35px;">NEW ISSUES</div>
<svg style="position:absolute;left:567px;top:637px;" width="16" height="16" viewBox="0 0 16 16"><rect x="0" y="0" width="16" height="16" rx="2.3" fill="#7BC7F1"/><path d="M9.0 1.6 H12.9 L4.65 9.85 L2.9 8.0 Z" fill="#fff"/><path d="M9.0 7.5 H12.9 L9.9 10.9 L12.9 14.35 H9.0 L5.8 10.9 Z" fill="#fff"/></svg>
<div class="t" style="left:591.3px;top:638.35px;font-size:14px;font-weight:400;color:#3D74DB;font-family:'Liberation Sans', sans-serif;letter-spacing:0.9px;">flutter</div>
<div class="t" style="left:785px;top:638.35px;font-size:14px;font-weight:400;color:#2B2233;font-family:'Liberation Sans', sans-serif;">0%</div>
<svg style="position:absolute;left:0px;top:107px;" width="1677" height="600" viewBox="0 0 1677 600"><rect x="826.30" y="536.97" width="5.1" height="10.83" fill="#E7E4EB"/><rect x="826.30" y="546.85" width="5.1" height="0.95" fill="#9A91D6"/><rect x="833.38" y="537.53" width="5.1" height="10.27" fill="#E7E4EB"/><rect x="833.38" y="546.85" width="5.1" height="0.95" fill="#9A91D6"/><rect x="840.46" y="545.00" width="5.1" height="2.80" fill="#E7E4EB"/><rect x="840.46" y="546.85" width="5.1" height="0.95" fill="#9A91D6"/><rect x="847.54" y="545.70" width="5.1" height="2.10" fill="#E7E4EB"/><rect x="847.54" y="546.85" width="5.1" height="0.95" fill="#9A91D6"/><rect x="854.62" y="537.53" width="5.1" height="10.27" fill="#E7E4EB"/><rect x="854.62" y="546.85" width="5.1" height="0.95" fill="#9A91D6"/><rect x="861.70" y="544.31" width="5.1" height="3.49" fill="#E7E4EB"/><rect x="861.70" y="546.85" width="5.1" height="0.95" fill="#9A91D6"/><rect x="868.78" y="538.51" width="5.1" height="9.29" fill="#E7E4EB"/><rect x="868.78" y="546.85" width="5.1" height="0.95" fill="#9A91D6"/><rect x="875.86" y="545.00" width="5.1" height="2.80" fill="#E7E4EB"/><rect x="875.86" y="546.85" width="5.1" height="0.95" fill="#9A91D6"/><rect x="882.94" y="535.43" width="5.1" height="12.37" fill="#E7E4EB"/><rect x="882.94" y="546.85" width="5.1" height="0.95" fill="#9A91D6"/><rect x="890.02" y="542.91" width="5.1" height="4.89" fill="#E7E4EB"/><rect x="890.02" y="546.85" width="5.1" height="0.95" fill="#9A91D6"/><rect x="897.10" y="540.60" width="5.1" height="7.20" fill="#E7E4EB"/><rect x="897.10" y="546.85" width="5.1" height="0.95" fill="#9A91D6"/><rect x="904.18" y="546.89" width="5.1" height="0.91" fill="#E7E4EB"/><rect x="904.18" y="546.85" width="5.1" height="0.95" fill="#9A91D6"/><rect x="911.26" y="538.51" width="5.1" height="9.29" fill="#E7E4EB"/><rect x="911.26" y="546.85" width="5.1" height="0.95" fill="#9A91D6"/><rect x="918.34" y="538.51" width="5.1" height="9.29" fill="#E7E4EB"/><rect x="918.34" y="546.85" width="5.1" height="0.95" fill="#9A91D6"/><rect x="925.42" y="541.30" width="5.1" height="6.50" fill="#E7E4EB"/><rect x="925.42" y="546.85" width="5.1" height="0.95" fill="#9A91D6"/><rect x="932.50" y="546.89" width="5.1" height="0.91" fill="#E7E4EB"/><rect x="932.50" y="546.85" width="5.1" height="0.95" fill="#9A91D6"/><rect x="939.58" y="546.89" width="5.1" height="0.91" fill="#E7E4EB"/><rect x="939.58" y="546.85" width="5.1" height="0.95" fill="#9A91D6"/><rect x="946.66" y="540.60" width="5.1" height="7.20" fill="#E7E4EB"/><rect x="946.66" y="546.85" width="5.1" height="0.95" fill="#9A91D6"/><rect x="953.74" y="543.61" width="5.1" height="4.19" fill="#E7E4EB"/><rect x="953.74" y="546.85" width="5.1" height="0.95" fill="#9A91D6"/><rect x="960.82" y="534.52" width="5.1" height="13.28" fill="#E7E4EB"/><rect x="960.82" y="546.85" width="5.1" height="0.95" fill="#9A91D6"/><rect x="967.90" y="546.89" width="5.1" height="0.91" fill="#E7E4EB"/><rect x="967.90" y="546.85" width="5.1" height="0.95" fill="#9A91D6"/><rect x="974.98" y="539.90" width="5.1" height="7.90" fill="#E7E4EB"/><rect x="974.98" y="546.85" width="5.1" height="0.95" fill="#9A91D6"/><rect x="982.06" y="546.89" width="5.1" height="0.91" fill="#E7E4EB"/><rect x="982.06" y="546.85" width="5.1" height="0.95" fill="#9A91D6"/><rect x="989.14" y="545.00" width="5.1" height="2.80" fill="#E7E4EB"/><rect x="989.14" y="546.85" width="5.1" height="0.95" fill="#9A91D6"/></svg>
<svg style="position:absolute;left:1150.6px;top:637.4px;" width="16" height="16" viewBox="0 0 16 16"><circle cx="8" cy="8" r="7.2" fill="none" stroke="#4AA487" stroke-width="1.5"/><path d="M4.5 8.3 L7.0 11.3 L11.4 4.7" fill="none" stroke="#4AA487" stroke-width="1.5" stroke-linecap="round" stroke-linejoin="round"/></svg>
<div class="t" style="left:1210.8px;transform:translateX(-100%);top:638.35px;font-size:14px;font-weight:400;color:#2B2233;font-family:'Liberation Sans', sans-serif;">100%</div>
<div class="t" style="left:1365.5px;transform:translateX(-100%);top:638.35px;font-size:14px;font-weight:400;color:#3D74DB;font-family:'Liberation Sans', sans-serif;">0</div>
<div class="t" style="left:1519.9px;transform:translateX(-100%);top:638.35px;font-size:14px;font-weight:400;color:#3D74DB;font-family:'Liberation Sans', sans-serif;">3</div>
<div style="position:absolute;left:1587.7px;top:631.2px;width:45px;height:27.6px;box-sizing:border-box;border:1px solid #DBD6E1;border-radius:3px;background:#fff;"></div>
<div class="t" style="left:1596.5px;top:638.84px;font-size:12px;font-weight:700;color:#2B2233;font-family:'Liberation Sans', sans-serif;">View</div>
<div style="position:absolute;left:250px;top:684px;width:1400px;height:91px;box-sizing:border-box;border:1px solid #DBD6E1;border-radius:4px;background:#fff;box-shadow:0 1px 1px rgba(43,34,51,0.03);overflow:hidden;"></div>
<div style="position:absolute;left:551px;top:685px;width:1098px;height:44px;background:#FAF9FB;border-top-right-radius:3px;"></div>
<div style="position:absolute;left:550px;top:685px;width:1px;height:89px;background:#DBD6E1;"></div>
<div style="position:absolute;left:551px;top:729px;width:1098px;height:1px;background:#DBD6E1;"></div>
<div class="t" style="left:266.6px;top:700.77px;font-size:17.4px;font-weight:400;color:#3D74DB;font-family:'Liberation Sans', sans-serif;letter-spacing:-0.45px;">1.1.0 (33)</div>
<div class="t" style="left:266.8px;top:722.55px;font-size:14px;font-weight:400;color:#2B2233;font-family:'Liberation Sans', sans-serif;letter-spacing:0.36px;">io.planttv.mobile.app</div>
<div class="t" style="left:266.9px;top:743.74px;font-size:12px;font-weight:400;color:#2B2233;font-family:'Liberation Sans', sans-serif;">2 months ago</div>
<div class="t" style="left:567.8px;top:700.84px;font-size:12px;font-weight:700;color:#80708F;font-family:'Liberation Sans', sans-serif;letter-spacing:-0.35px;">PROJECT NAME</div>
<div class="t" style="left:784.5px;top:700.84px;font-size:12px;font-weight:700;color:#80708F;font-family:'Liberation Sans', sans-serif;letter-spacing:-0.35px;">ADOPTION</div>
<div class="t" style="left:940.2px;top:700.84px;font-size:12px;font-weight:700;color:#3E3446;font-family:'Liberation Sans', sans-serif;letter-spacing:0.5px;">24H</div>
<div class="t" style="left:970.3px;top:700.84px;font-size:12px;font-weight:700;color:#80708F;font-family:'Liberation Sans', sans-serif;letter-spacing:0.5px;">14D</div>
<div class="t" style="left:1210.8px;transform:translateX(-100%);top:700.84px;font-size:12px;font-weight:700;color:#80708F;font-family:'Liberation Sans', sans-serif;letter-spacing:-0.35px;">CRASH FREE RATE</div>
<div class="t" style="left:1365.5px;transform:translateX(-100%);top:700.84px;font-size:12px;font-weight:700;color:#80708F;font-family:'Liberation Sans', sans-serif;letter-spacing:-0.35px;">CRASHES</div>
<div class="t" style="left:1519.9px;transform:translateX(-100%);top:700.84px;font-size:12px;font-weight:700;color:#80708F;font-family:'Liberation Sans', sans-serif;letter-spacing:-0.35px;">NEW ISSUES</div>
<svg style="position:absolute;left:567px;top:744px;" width="16" height="16" viewBox="0 0 16 16"><rect x="0" y="0" width="16" height="16" rx="2.3" fill="#7BC7F1"/><path d="M9.0 1.6 H12.9 L4.65 9.85 L2.9 8.0 Z" fill="#fff"/><path d="M9.0 7.5 H12.9 L9.9 10.9 L12.9 14.35 H9.0 L5.8 10.9 Z" fill="#fff"/></svg>
<div class="t" style="left:591.3px;top:745.35px;font-size:14px;font-weight:400;color:#3D74DB;font-family:'Liberation Sans', sans-serif;letter-spacing:0.9px;">flutter</div>
<div class="t" style="left:785px;top:745.35px;font-size:14px;font-weight:400;color:#2B2233;font-family:'Liberation Sans', sans-serif;">0%</div>
<svg style="position:absolute;left:0px;top:214px;" width="1677" height="600" viewBox="0 0 1677 600"><rect x="826.30" y="536.97" width="5.1" height="10.83" fill="#E7E4EB"/><rect x="826.30" y="546.85" width="5.1" height="0.95" fill="#9A91D6"/><rect x="833.38" y="537.53" width="5.1" height="10.27" fill="#E7E4EB"/><rect x="833.38" y="546.85" width="5.1" height="0.95" fill="#9A91D6"/><rect x="840.46" y="545.00" width="5.1" height="2.80" fill="#E7E4EB"/><rect x="840.46" y="546.85" width="5.1" height="0.95" fill="#9A91D6"/><rect x="847.54" y="545.70" width="5.1" height="2.10" fill="#E7E4EB"/><rect x="847.54" y="546.85" width="5.1" height="0.95" fill="#9A91D6"/><rect x="854.62" y="537.53" width="5.1" height="10.27" fill="#E7E4EB"/><rect x="854.62" y="546.85" width="5.1" height="0.95" fill="#9A91D6"/><rect x="861.70" y="544.31" width="5.1" height="3.49" fill="#E7E4EB"/><rect x="861.70" y="546.85" width="5.1" height="0.95" fill="#9A91D6"/><rect x="868.78" y="538.51" width="5.1" height="9.29" fill="#E7E4EB"/><rect x="868.78" y="546.85" width="5.1" height="0.95" fill="#9A91D6"/><rect x="875.86" y="545.00" width="5.1" height="2.80" fill="#E7E4EB"/><rect x="875.86" y="546.85" width="5.1" height="0.95" fill="#9A91D6"/><rect x="882.94" y="535.43" width="5.1" height="12.37" fill="#E7E4EB"/><rect x="882.94" y="546.85" width="5.1" height="0.95" fill="#9A91D6"/><rect x="890.02" y="542.91" width="5.1" height="4.89" fill="#E7E4EB"/><rect x="890.02" y="546.85" width="5.1" height="0.95" fill="#9A91D6"/><rect x="897.10" y="540.60" width="5.1" height="7.20" fill="#E7E4EB"/><rect x="897.10" y="546.85" width="5.1" height="0.95" fill="#9A91D6"/><rect x="904.18" y="546.89" width="5.1" height="0.91" fill="#E7E4EB"/><rect x="904.18" y="546.85" width="5.1" height="0.95" fill="#9A91D6"/><rect x="911.26" y="538.51" width="5.1" height="9.29" fill="#E7E4EB"/><rect x="911.26" y="546.85" width="5.1" height="0.95" fill="#9A91D6"/><rect x="918.34" y="538.51" width="5.1" height="9.29" fill="#E7E4EB"/><rect x="918.34" y="546.85" width="5.1" height="0.95" fill="#9A91D6"/><rect x="925.42" y="541.30" width="5.1" height="6.50" fill="#E7E4EB"/><rect x="925.42" y="546.85" width="5.1" height="0.95" fill="#9A91D6"/><rect x="932.50" y="546.89" width="5.1" height="0.91" fill="#E7E4EB"/><rect x="932.50" y="546.85" width="5.1" height="0.95" fill="#9A91D6"/><rect x="939.58" y="546.89" width="5.1" height="0.91" fill="#E7E4EB"/><rect x="939.58" y="546.85" width="5.1" height="0.95" fill="#9A91D6"/><rect x="946.66" y="540.60" width="5.1" height="7.20" fill="#E7E4EB"/><rect x="946.66" y="546.85" width="5.1" height="0.95" fill="#9A91D6"/><rect x="953.74" y="543.61" width="5.1" height="4.19" fill="#E7E4EB"/><rect x="953.74" y="546.85" width="5.1" height="0.95" fill="#9A91D6"/><rect x="960.82" y="534.52" width="5.1" height="13.28" fill="#E7E4EB"/><rect x="960.82" y="546.85" width="5.1" height="0.95" fill="#9A91D6"/><rect x="967.90" y="546.89" width="5.1" height="0.91" fill="#E7E4EB"/><rect x="967.90" y="546.85" width="5.1" height="0.95" fill="#9A91D6"/><rect x="974.98" y="539.90" width="5.1" height="7.90" fill="#E7E4EB"/><rect x="974.98" y="546.85" width="5.1" height="0.95" fill="#9A91D6"/><rect x="982.06" y="546.89" width="5.1" height="0.91" fill="#E7E4EB"/><rect x="982.06" y="546.85" width="5.1" height="0.95" fill="#9A91D6"/><rect x="989.14" y="545.00" width="5.1" height="2.80" fill="#E7E4EB"/><rect x="989.14" y="546.85" width="5.1" height="0.95" fill="#9A91D6"/></svg>
<div style="position:absolute;left:1201.3px;top:752.35px;width:9px;height:1px;background:#D8D3DE;"></div>
<div style="position:absolute;left:1356px;top:752.35px;width:9px;height:1px;background:#D8D3DE;"></div>
<div class="t" style="left:1519.9px;transform:translateX(-100%);top:745.35px;font-size:14px;font-weight:400;color:#3D74DB;font-family:'Liberation Sans', sans-serif;">1</div>
<div style="position:absolute;left:1587.7px;top:738.2px;width:45px;height:27.6px;box-sizing:border-box;border:1px solid #DBD6E1;border-radius:3px;background:#fff;"></div>
<div class="t" style="left:1596.5px;top:745.84px;font-size:12px;font-weight:700;color:#2B2233;font-family:'Liberation Sans', sans-serif;">View</div>
<div style="position:absolute;left:250px;top:791px;width:1400px;height:91px;box-sizing:border-box;border:1px solid #DBD6E1;border-radius:4px;background:#fff;box-shadow:0 1px 1px rgba(43,34,51,0.03);overflow:hidden;"></div>
<div style="position:absolute;left:551px;top:792px;width:1098px;height:44px;background:#FAF9FB;border-top-right-radius:3px;"></div>
<div style="position:absolute;left:550px;top:792px;width:1px;height:89px;background:#DBD6E1;"></div>
<div style="position:absolute;left:551px;top:836px;width:1098px;height:1px;background:#DBD6E1;"></div>
<div class="t" style="left:266.6px;top:807.77px;font-size:17.4px;font-weight:400;color:#3D74DB;font-family:'Liberation Sans', sans-serif;letter-spacing:-0.45px;">1.1.0 (32)</div>
<div class="t" style="left:266.8px;top:829.55px;font-size:14px;font-weight:400;color:#2B2233;font-family:'Liberation Sans', sans-serif;letter-spacing:0.36px;">io.planttv.mobile.app</div>
<div class="t" style="left:266.9px;top:850.74px;font-size:12px;font-weight:400;color:#2B2233;font-family:'Liberation Sans', sans-serif;">2 months ago</div>
<div class="t" style="left:567.8px;top:807.84px;font-size:12px;font-weight:700;color:#80708F;font-family:'Liberation Sans', sans-serif;letter-spacing:-0.35px;">PROJECT NAME</div>
<div class="t" style="left:784.5px;top:807.84px;font-size:12px;font-weight:700;color:#80708F;font-family:'Liberation Sans', sans-serif;letter-spacing:-0.35px;">ADOPTION</div>
<div class="t" style="left:940.2px;top:807.84px;font-size:12px;font-weight:700;color:#3E3446;font-family:'Liberation Sans', sans-serif;letter-spacing:0.5px;">24H</div>
<div class="t" style="left:970.3px;top:807.84px;font-size:12px;font-weight:700;color:#80708F;font-family:'Liberation Sans', sans-serif;letter-spacing:0.5px;">14D</div>
<div class="t" style="left:1210.8px;transform:translateX(-100%);top:807.84px;font-size:12px;font-weight:700;color:#80708F;font-family:'Liberation Sans', sans-serif;letter-spacing:-0.35px;">CRASH FREE RATE</div>
<div class="t" style="left:1365.5px;transform:translateX(-100%);top:807.84px;font-size:12px;font-weight:700;color:#80708F;font-family:'Liberation Sans', sans-serif;letter-spacing:-0.35px;">CRASHES</div>
<div class="t" style="left:1519.9px;transform:translateX(-100%);top:807.84px;font-size:12px;font-weight:700;color:#80708F;font-family:'Liberation Sans', sans-serif;letter-spacing:-0.35px;">NEW ISSUES</div>
<svg style="position:absolute;left:567px;top:851px;" width="16" height="16" viewBox="0 0 16 16"><rect x="0" y="0" width="16" height="16" rx="2.3" fill="#7BC7F1"/><path d="M9.0 1.6 H12.9 L4.65 9.85 L2.9 8.0 Z" fill="#fff"/><path d="M9.0 7.5 H12.9 L9.9 10.9 L12.9 14.35 H9.0 L5.8 10.9 Z" fill="#fff"/></svg>
<div class="t" style="left:591.3px;top:852.35px;font-size:14px;font-weight:400;color:#3D74DB;font-family:'Liberation Sans', sans-serif;letter-spacing:0.9px;">flutter</div>
<div class="t" style="left:785px;top:852.35px;font-size:14px;font-weight:400;color:#2B2233;font-family:'Liberation Sans', sans-serif;">0%</div>
<svg style="position:absolute;left:0px;top:321px;" width="1677" height="600" viewBox="0 0 1677 600"><rect x="826.30" y="536.97" width="5.1" height="10.83" fill="#E7E4EB"/><rect x="826.30" y="546.85" width="5.1" height="0.95" fill="#9A91D6"/><rect x="833.38" y="537.53" width="5.1" height="10.27" fill="#E7E4EB"/><rect x="833.38" y="546.85" width="5.1" height="0.95" fill="#9A91D6"/><rect x="840.46" y="545.00" width="5.1" height="2.80" fill="#E7E4EB"/><rect x="840.46" y="546.85" width="5.1" height="0.95" fill="#9A91D6"/><rect x="847.54" y="545.70" width="5.1" height="2.10" fill="#E7E4EB"/><rect x="847.54" y="546.85" width="5.1" height="0.95" fill="#9A91D6"/><rect x="854.62" y="537.53" width="5.1" height="10.27" fill="#E7E4EB"/><rect x="854.62" y="546.85" width="5.1" height="0.95" fill="#9A91D6"/><rect x="861.70" y="544.31" width="5.1" height="3.49" fill="#E7E4EB"/><rect x="861.70" y="546.85" width="5.1" height="0.95" fill="#9A91D6"/><rect x="868.78" y="538.51" width="5.1" height="9.29" fill="#E7E4EB"/><rect x="868.78" y="546.85" width="5.1" height="0.95" fill="#9A91D6"/><rect x="875.86" y="545.00" width="5.1" height="2.80" fill="#E7E4EB"/><rect x="875.86" y="546.85" width="5.1" height="0.95" fill="#9A91D6"/><rect x="882.94" y="535.43" width="5.1" height="12.37" fill="#E7E4EB"/><rect x="882.94" y="546.85" width="5.1" height="0.95" fill="#9A91D6"/><rect x="890.02" y="542.91" width="5.1" height="4.89" fill="#E7E4EB"/><rect x="890.02" y="546.85" width="5.1" height="0.95" fill="#9A91D6"/><rect x="897.10" y="540.60" width="5.1" height="7.20" fill="#E7E4EB"/><rect x="897.10" y="546.85" width="5.1" height="0.95" fill="#9A91D6"/><rect x="904.18" y="546.89" width="5.1" height="0.91" fill="#E7E4EB"/><rect x="904.18" y="546.85" width="5.1" height="0.95" fill="#9A91D6"/><rect x="911.26" y="538.51" width="5.1" height="9.29" fill="#E7E4EB"/><rect x="911.26" y="546.85" width="5.1" height="0.95" fill="#9A91D6"/><rect x="918.34" y="538.51" width="5.1" height="9.29" fill="#E7E4EB"/><rect x="918.34" y="546.85" width="5.1" height="0.95" fill="#9A91D6"/><rect x="925.42" y="541.30" width="5.1" height="6.50" fill="#E7E4EB"/><rect x="925.42" y="546.85" width="5.1" height="0.95" fill="#9A91D6"/><rect x="932.50" y="546.89" width="5.1" height="0.91" fill="#E7E4EB"/><rect x="932.50" y="546.85" width="5.1" height="0.95" fill="#9A91D6"/><rect x="939.58" y="546.89" width="5.1" height="0.91" fill="#E7E4EB"/><rect x="939.58" y="546.85" width="5.1" height="0.95" fill="#9A91D6"/><rect x="946.66" y="540.60" width="5.1" height="7.20" fill="#E7E4EB"/><rect x="946.66" y="546.85" width="5.1" height="0.95" fill="#9A91D6"/><rect x="953.74" y="543.61" width="5.1" height="4.19" fill="#E7E4EB"/><rect x="953.74" y="546.85" width="5.1" height="0.95" fill="#9A91D6"/><rect x="960.82" y="534.52" width="5.1" height="13.28" fill="#E7E4EB"/><rect x="960.82" y="546.85" width="5.1" height="0.95" fill="#9A91D6"/><rect x="967.90" y="546.89" width="5.1" height="0.91" fill="#E7E4EB"/><rect x="967.90" y="546.85" width="5.1" height="0.95" fill="#9A91D6"/><rect x="974.98" y="539.90" width="5.1" height="7.90" fill="#E7E4EB"/><rect x="974.98" y="546.85" width="5.1" height="0.95" fill="#9A91D6"/><rect x="982.06" y="546.89" width="5.1" height="0.91" fill="#E7E4EB"/><rect x="982.06" y="546.85" width="5.1" height="0.95" fill="#9A91D6"/><rect x="989.14" y="545.00" width="5.1" height="2.80" fill="#E7E4EB"/><rect x="989.14" y="546.85" width="5.1" height="0.95" fill="#9A91D6"/></svg>
<div style="position:absolute;left:1201.3px;top:859.35px;width:9px;height:1px;background:#D8D3DE;"></div>
<div style="position:absolute;left:1356px;top:859.35px;width:9px;height:1px;background:#D8D3DE;"></div>
<div class="t" style="left:1519.9px;transform:translateX(-100%);top:852.35px;font-size:14px;font-weight:400;color:#3D74DB;font-family:'Liberation Sans', sans-serif;">0</div>
<div style="position:absolute;left:1587.7px;top:845.2px;width:45px;height:27.6px;box-sizing:border-box;border:1px solid #DBD6E1;border-radius:3px;background:#fff;"></div>
<div class="t" style="left:1596.5px;top:852.84px;font-size:12px;font-weight:700;color:#2B2233;font-family:'Liberation Sans', sans-serif;">View</div>
<div style="position:absolute;left:250px;top:898px;width:1400px;height:91px;box-sizing:border-box;border:1px solid #DBD6E1;border-radius:4px;background:#fff;box-shadow:0 1px 1px rgba(43,34,51,0.03);overflow:hidden;"></div>
<div style="position:absolute;left:551px;top:899px;width:1098px;height:44px;background:#FAF9FB;border-top-right-radius:3px;"></div>
<div style="position:absolute;left:550px;top:899px;width:1px;height:89px;background:#DBD6E1;"></div>
<div style="position:absolute;left:551px;top:943px;width:1098px;height:1px;background:#DBD6E1;"></div>
<div class="t" style="left:266.6px;top:914.77px;font-size:17.4px;font-weight:400;color:#3D74DB;font-family:'Liberation Sans', sans-serif;letter-spacing:-0.45px;">1.1.0 (31)</div>
<div class="t" style="left:266.8px;top:936.55px;font-size:14px;font-weight:400;color:#2B2233;font-family:'Liberation Sans', sans-serif;letter-spacing:0.36px;">io.planttv.mobile.app</div>
<div class="t" style="left:266.9px;top:957.74px;font-size:12px;font-weight:400;color:#2B2233;font-family:'Liberation Sans', sans-serif;">2 months ago</div>
<div class="t" style="left:567.8px;top:914.84px;font-size:12px;font-weight:700;color:#80708F;font-family:'Liberation Sans', sans-serif;letter-spacing:-0.35px;">PROJECT NAME</div>
<div class="t" style="left:784.5px;top:914.84px;font-size:12px;font-weight:700;color:#80708F;font-family:'Liberation Sans', sans-serif;letter-spacing:-0.35px;">ADOPTION</div>
<div class="t" style="left:940.2px;top:914.84px;font-size:12px;font-weight:700;color:#3E3446;font-family:'Liberation Sans', sans-serif;letter-spacing:0.5px;">24H</div>
<div class="t" style="left:970.3px;top:914.84px;font-size:12px;font-weight:700;color:#80708F;font-family:'Liberation Sans', sans-serif;letter-spacing:0.5px;">14D</div>
<div class="t" style="left:1210.8px;transform:translateX(-100%);top:914.84px;font-size:12px;font-weight:700;color:#80708F;font-family:'Liberation Sans', sans-serif;letter-spacing:-0.35px;">CRASH FREE RATE</div>
<div class="t" style="left:1365.5px;transform:translateX(-100%);top:914.84px;font-size:12px;font-weight:700;color:#80708F;font-family:'Liberation Sans', sans-serif;letter-spacing:-0.35px;">CRASHES</div>
<div class="t" style="left:1519.9px;transform:translateX(-100%);top:914.84px;font-size:12px;font-weight:700;color:#80708F;font-family:'Liberation Sans', sans-serif;letter-spacing:-0.35px;">NEW ISSUES</div>
<svg style="position:absolute;left:567px;top:958px;" width="16" height="16" viewBox="0 0 16 16"><rect x="0" y="0" width="16" height="16" rx="2.3" fill="#7BC7F1"/><path d="M9.0 1.6 H12.9 L4.65 9.85 L2.9 8.0 Z" fill="#fff"/><path d="M9.0 7.5 H12.9 L9.9 10.9 L12.9 14.35 H9.0 L5.8 10.9 Z" fill="#fff"/></svg>
<div class="t" style="left:591.3px;top:959.35px;font-size:14px;font-weight:400;color:#3D74DB;font-family:'Liberation Sans', sans-serif;letter-spacing:0.9px;">flutter</div>
<div class="t" style="left:785px;top:959.35px;font-size:14px;font-weight:400;color:#2B2233;font-family:'Liberation Sans', sans-serif;">0%</div>
<svg style="position:absolute;left:0px;top:428px;" width="1677" height="600" viewBox="0 0 1677 600"><rect x="826.30" y="536.97" width="5.1" height="10.83" fill="#E7E4EB"/><rect x="826.30" y="546.85" width="5.1" height="0.95" fill="#9A91D6"/><rect x="833.38" y="537.53" width="5.1" height="10.27" fill="#E7E4EB"/><rect x="833.38" y="546.85" width="5.1" height="0.95" fill="#9A91D6"/><rect x="840.46" y="545.00" width="5.1" height="2.80" fill="#E7E4EB"/><rect x="840.46" y="546.85" width="5.1" height="0.95" fill="#9A91D6"/><rect x="847.54" y="545.70" width="5.1" height="2.10" fill="#E7E4EB"/><rect x="847.54" y="546.85" width="5.1" height="0.95" fill="#9A91D6"/><rect x="854.62" y="537.53" width="5.1" height="10.27" fill="#E7E4EB"/><rect x="854.62" y="546.85" width="5.1" height="0.95" fill="#9A91D6"/><rect x="861.70" y="544.31" width="5.1" height="3.49" fill="#E7E4EB"/><rect x="861.70" y="546.85" width="5.1" height="0.95" fill="#9A91D6"/><rect x="868.78" y="538.51" width="5.1" height="9.29" fill="#E7E4EB"/><rect x="868.78" y="546.85" width="5.1" height="0.95" fill="#9A91D6"/><rect x="875.86" y="545.00" width="5.1" height="2.80" fill="#E7E4EB"/><rect x="875.86" y="546.85" width="5.1" height="0.95" fill="#9A91D6"/><rect x="882.94" y="535.43" width="5.1" height="12.37" fill="#E7E4EB"/><rect x="882.94" y="546.85" width="5.1" height="0.95" fill="#9A91D6"/><rect x="890.02" y="542.91" width="5.1" height="4.89" fill="#E7E4EB"/><rect x="890.02" y="546.85" width="5.1" height="0.95" fill="#9A91D6"/><rect x="897.10" y="540.60" width="5.1" height="7.20" fill="#E7E4EB"/><rect x="897.10" y="546.85" width="5.1" height="0.95" fill="#9A91D6"/><rect x="904.18" y="546.89" width="5.1" height="0.91" fill="#E7E4EB"/><rect x="904.18" y="546.85" width="5.1" height="0.95" fill="#9A91D6"/><rect x="911.26" y="538.51" width="5.1" height="9.29" fill="#E7E4EB"/><rect x="911.26" y="546.85" width="5.1" height="0.95" fill="#9A91D6"/><rect x="918.34" y="538.51" width="5.1" height="9.29" fill="#E7E4EB"/><rect x="918.34" y="546.85" width="5.1" height="0.95" fill="#9A91D6"/><rect x="925.42" y="541.30" width="5.1" height="6.50" fill="#E7E4EB"/><rect x="925.42" y="546.85" width="5.1" height="0.95" fill="#9A91D6"/><rect x="932.50" y="546.89" width="5.1" height="0.91" fill="#E7E4EB"/><rect x="932.50" y="546.85" width="5.1" height="0.95" fill="#9A91D6"/><rect x="939.58" y="546.89" width="5.1" height="0.91" fill="#E7E4EB"/><rect x="939.58" y="546.85" width="5.1" height="0.95" fill="#9A91D6"/><rect x="946.66" y="540.60" width="5.1" height="7.20" fill="#E7E4EB"/><rect x="946.66" y="546.85" width="5.1" height="0.95" fill="#9A91D6"/><rect x="953.74" y="543.61" width="5.1" height="4.19" fill="#E7E4EB"/><rect x="953.74" y="546.85" width="5.1" height="0.95" fill="#9A91D6"/><rect x="960.82" y="534.52" width="5.1" height="13.28" fill="#E7E4EB"/><rect x="960.82" y="546.85" width="5.1" height="0.95" fill="#9A91D6"/><rect x="967.90" y="546.89" width="5.1" height="0.91" fill="#E7E4EB"/><rect x="967.90" y="546.85" width="5.1" height="0.95" fill="#9A91D6"/><rect x="974.98" y="539.90" width="5.1" height="7.90" fill="#E7E4EB"/><rect x="974.98" y="546.85" width="5.1" height="0.95" fill="#9A91D6"/><rect x="982.06" y="546.89" width="5.1" height="0.91" fill="#E7E4EB"/><rect x="982.06" y="546.85" width="5.1" height="0.95" fill="#9A91D6"/><rect x="989.14" y="545.00" width="5.1" height="2.80" fill="#E7E4EB"/><rect x="989.14" y="546.85" width="5.1" height="0.95" fill="#9A91D6"/></svg>
<div style="position:absolute;left:1201.3px;top:966.35px;width:9px;height:1px;background:#D8D3DE;"></div>
<div style="position:absolute;left:1356px;top:966.35px;width:9px;height:1px;background:#D8D3DE;"></div>
<div class="t" style="left:1519.9px;transform:translateX(-100%);top:959.35px;font-size:14px;font-weight:400;color:#3D74DB;font-family:'Liberation Sans', sans-serif;">0</div>
<div style="position:absolute;left:1587.7px;top:952.2px;width:45px;height:27.6px;box-sizing:border-box;border:1px solid #DBD6E1;border-radius:3px;background:#fff;"></div>
<div class="t" style="left:1596.5px;top:959.84px;font-size:12px;font-weight:700;color:#2B2233;font-family:'Liberation Sans', sans-serif;">View</div>
</body></html>
